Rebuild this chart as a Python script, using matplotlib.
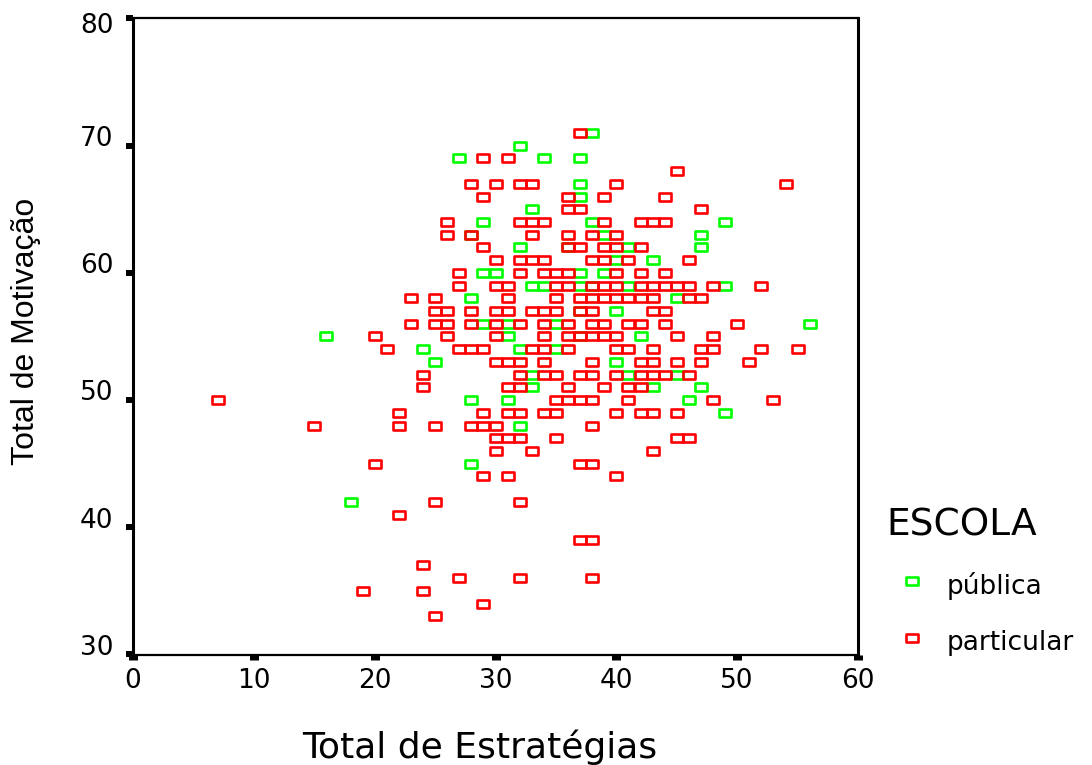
import matplotlib
matplotlib.use('AGG')
import matplotlib.pyplot as plt
from matplotlib.path import Path
from matplotlib.lines import Line2D
from matplotlib.transforms import ScaledTranslation

plt.rcParams['font.family'] = 'DejaVu Sans'

# values
publica_x = [38, 32, 27, 34, 37, 37, 37, 33, 29, 38, 49, 28, 39, 47, 32, 36, 41, 47, 43, 40,
             29, 30, 37, 39, 33, 34, 37, 38, 41, 49, 28, 45, 37, 40, 29, 31, 35, 56, 16, 31,
             37, 42, 24, 32, 35, 25, 40, 33, 41, 45, 33, 43, 47, 28, 31, 46, 49, 32, 28, 18]
publica_y = [71, 70, 69, 69, 69, 67, 66, 65, 64, 64, 64, 63, 63, 63, 62, 62, 62, 62, 61, 61,
             60, 60, 60, 60, 59, 59, 59, 59, 59, 59, 58, 58, 57, 57, 56, 56, 56, 56, 55, 55,
             55, 55, 54, 54, 54, 53, 53, 52, 52, 52, 51, 51, 51, 50, 50, 50, 49, 48, 45, 42]

particular_rows = {
    71: [37],
    69: [29, 31],
    68: [45],
    67: [28, 30, 32, 33, 40, 54],
    66: [29, 36, 39, 44],
    65: [36, 37, 47],
    64: [26, 32, 33, 34, 39, 42, 43, 44],
    63: [26, 28, 33, 36, 38, 40],
    62: [29, 36, 37, 39, 40, 42],
    61: [30, 32, 33, 34, 38, 39, 41, 46],
    60: [27, 32, 34, 35, 36, 40, 42, 44],
    59: [27, 30, 31, 35, 36, 38, 39, 40, 42, 43, 44, 45, 46, 48, 52],
    58: [23, 25, 31, 35, 37, 38, 39, 40, 41, 42, 43, 46, 47],
    57: [25, 26, 28, 30, 31, 33, 34, 35, 37, 38, 43, 44],
    56: [23, 25, 26, 28, 30, 32, 34, 36, 38, 39, 41, 42, 44, 50],
    55: [20, 26, 30, 34, 36, 37, 38, 39, 40, 45, 48],
    54: [21, 27, 28, 29, 33, 34, 36, 40, 41, 43, 47, 48, 52, 55],
    53: [30, 31, 32, 34, 38, 42, 43, 45, 47, 51],
    52: [24, 32, 34, 35, 37, 38, 40, 42, 43, 44, 46],
    51: [24, 31, 32, 36, 39, 41, 42],
    50: [7, 35, 36, 37, 38, 41, 48, 53],
    49: [22, 29, 31, 32, 34, 35, 40, 42, 43, 45],
    48: [15, 22, 25, 28, 29, 30, 38],
    47: [30, 31, 32, 35, 45, 46],
    46: [30, 33, 43],
    45: [20, 37, 38],
    44: [29, 31, 40],
    42: [25, 32],
    41: [22],
    39: [37, 38],
    37: [24],
    36: [27, 32, 38],
    35: [19, 24],
    34: [29],
    33: [25],
}
particular_x = [x for row in particular_rows.values() for x in row]
particular_y = [y for y, row in particular_rows.items() for x in row]

x_ticks = [0, 10, 20, 30, 40, 50, 60]
y_ticks = [30, 40, 50, 60, 70, 80]

W, H = 1092, 765
fig = plt.figure(figsize=(W / 100, H / 100), dpi=100)
ax = fig.add_axes([133 / W, 1 - 654.5 / H, (858 - 133) / W, (654.5 - 18.5) / H])

# flat SPSS style box marker
box = Path([(-1, -0.66), (1, -0.66), (1, 0.66), (-1, 0.66), (-1, -0.66)], closed=True)
marker_style = dict(linestyle='none', marker=box, markersize=9.3, markeredgewidth=1.9,
                    markerfacecolor='none', clip_on=False)

ax.plot(publica_x, publica_y, markeredgecolor='#00ff00', **marker_style)
ax.plot(particular_x, particular_y, markeredgecolor='#ff0000', **marker_style)

ax.set_xlim(0, 60)
ax.set_ylim(30, 80)
ax.set_xticks(x_ticks)
ax.set_yticks(y_ticks)
for side in ['left', 'right']:
    ax.spines[side].set_linewidth(2.2)
for side in ['top', 'bottom']:
    ax.spines[side].set_linewidth(1.6)

ax.tick_params(axis='x', length=3.6, width=6.5, pad=6, labelsize=19)
ax.tick_params(axis='y', length=5, width=4.3, pad=9, labelsize=19)

# y labels sit above their tick, apart from the top one
for value, label in zip(y_ticks, ax.get_yticklabels()):
    shift = -3 if value == 80 else 7
    label.set_transform(label.get_transform() + ScaledTranslation(0, shift / 72, fig.dpi_scale_trans))

fig.text(480 / W, 1 - 747 / H, 'Total de Estratégias', fontsize=26, ha='center', va='center')
fig.text(26 / W, 1 - 331 / H, 'Total de Motivação', fontsize=23, rotation=90, ha='center', va='center',
         family='Liberation Sans')

# legend
fig.text(886 / W, 1 - 525 / H, 'ESCOLA', fontsize=27, ha='left', va='center')
fig.add_artist(Line2D([912 / W], [1 - 581 / H], transform=fig.transFigure,
                      markeredgecolor='#00ff00', **marker_style))
fig.add_artist(Line2D([912 / W], [1 - 638 / H], transform=fig.transFigure,
                      markeredgecolor='#ff0000', **marker_style))
fig.text(947 / W, 1 - 586 / H, 'pública', fontsize=19, ha='left', va='center')
fig.text(947 / W, 1 - 643 / H, 'particular', fontsize=19, ha='left', va='center')

fig.savefig('out.png', dpi=100)
